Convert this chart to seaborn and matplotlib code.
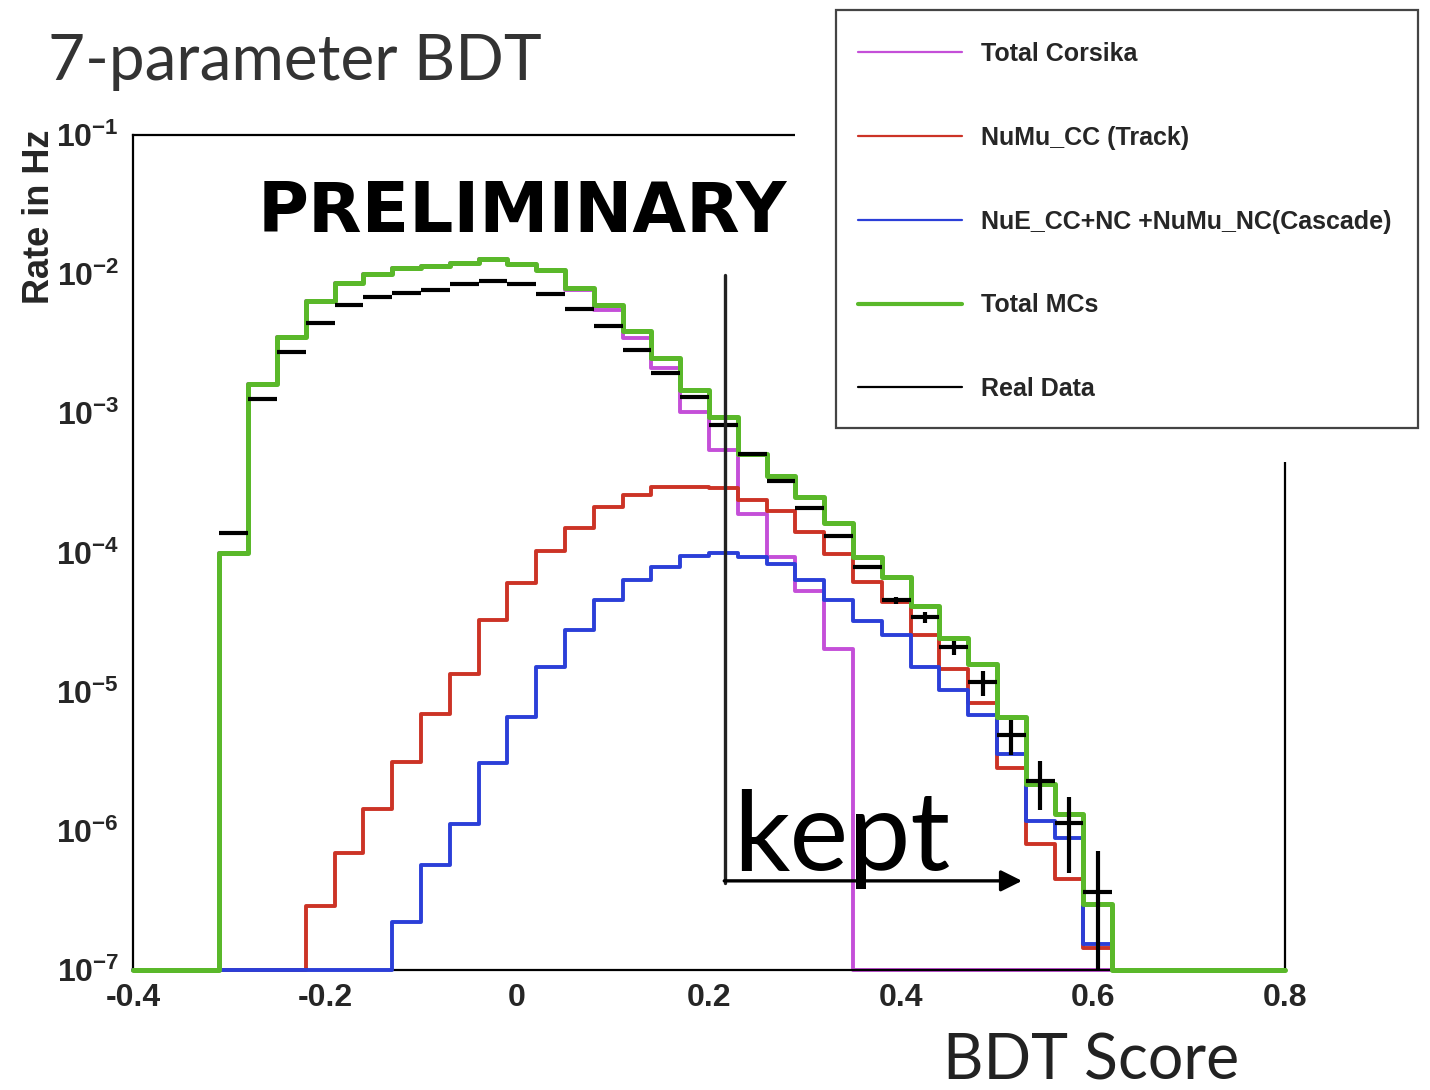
import numpy as np
import pandas as pd
import matplotlib
matplotlib.use("Agg")
import matplotlib.pyplot as plt
import seaborn as sns
from matplotlib.lines import Line2D
from matplotlib.patches import Rectangle
from matplotlib.ticker import MultipleLocator, FixedLocator, FuncFormatter, NullFormatter

# ---------------- data ----------------
# 40 bins of width 0.03 between -0.4 and 0.8
bin_edges = np.round(np.linspace(-0.4, 0.8, 41), 4)

corsika = [0, 0, 0, 1.0e-4, 1.62e-3, 3.54e-3, 6.4e-3, 8.6e-3, 1.0e-2, 1.10e-2,
           1.14e-2, 1.2e-2, 1.28e-2, 1.18e-2, 1.07e-2, 7.67e-3, 5.57e-3, 3.48e-3, 2.13e-3, 1.03e-3,
           5.46e-4, 1.90e-4, 9.35e-5, 5.33e-5, 2.03e-5, 0, 0, 0, 0, 0,
           0, 0, 0, 0, 0, 0, 0, 0, 0, 0]

numu_cc = [0, 0, 0, 0, 0, 0, 2.88e-7, 6.98e-7, 1.43e-6, 3.13e-6,
           6.91e-6, 1.35e-5, 3.28e-5, 6.08e-5, 1.03e-4, 1.51e-4, 2.12e-4, 2.57e-4, 2.97e-4, 2.97e-4,
           2.93e-4, 2.40e-4, 2.00e-4, 1.40e-4, 9.8e-5, 6.11e-5, 4.39e-5, 2.56e-5, 1.46e-5, 8.24e-6,
           2.85e-6, 8.02e-7, 4.49e-7, 1.44e-7, 0, 0, 0, 0, 0, 0]

cascade = [0, 0, 0, 0, 0, 0, 0, 0, 0, 2.22e-7,
           5.69e-7, 1.12e-6, 3.08e-6, 6.61e-6, 1.50e-5, 2.78e-5, 4.52e-5, 6.30e-5, 7.93e-5, 9.51e-5,
           1.0e-4, 9.28e-5, 8.20e-5, 6.30e-5, 4.52e-5, 3.24e-5, 2.56e-5, 1.50e-5, 1.02e-5, 6.84e-6,
           3.58e-6, 1.18e-6, 8.95e-7, 1.54e-7, 0, 0, 0, 0, 0, 0]

total_mc = [0, 0, 0, 1.00e-4, 1.62e-3, 3.54e-3, 6.4e-3, 8.6e-3, 1.0e-2, 1.10e-2,
            1.14e-2, 1.20e-2, 1.28e-2, 1.19e-2, 1.08e-2, 7.96e-3, 6.05e-3, 3.91e-3, 2.50e-3, 1.46e-3,
            9.44e-4, 5.13e-4, 3.52e-4, 2.50e-4, 1.63e-4, 9.25e-5, 6.64e-5, 4.16e-5, 2.42e-5, 1.58e-5,
            6.53e-6, 2.17e-6, 1.32e-6, 3.0e-7, 0, 0, 0, 0, 0, 0]

# real data: bins 3..33
data_first_bin = 3
real_data = [1.39e-4, 1.26e-3, 2.75e-3, 4.47e-3, 5.98e-3, 6.87e-3, 7.33e-3, 7.67e-3, 8.43e-3, 8.86e-3,
             8.43e-3, 7.26e-3, 5.66e-3, 4.22e-3, 2.87e-3, 1.95e-3, 1.32e-3, 8.2e-4, 5.07e-4, 3.24e-4,
             2.09e-4, 1.32e-4, 7.84e-5, 4.52e-5, 3.43e-5, 2.08e-5, 1.17e-5, 4.88e-6, 2.29e-6, 1.13e-6,
             3.66e-7]
real_data_err = [2e-6, 1.2e-5, 2e-5, 2.5e-5, 3e-5, 3e-5, 3e-5, 3e-5, 3e-5, 3e-5,
                 3e-5, 3e-5, 2.5e-5, 2e-5, 1.8e-5, 1.5e-5, 1.2e-5, 1e-5, 8e-6, 6e-6,
                 5e-6, 4e-6, 2.4e-6, 2.3e-6, 2.9e-6, 2.5e-6, 2.4e-6, 1.4e-6, 8.7e-7, 6.3e-7,
                 3.5e-7]

labels = ["Total Corsika", "NuMu_CC (Track)", "NuE_CC+NC +NuMu_NC(Cascade)", "Total MCs", "Real Data"]
x_ticks = [-0.4, -0.2, 0, 0.2, 0.4, 0.6, 0.8]
x_tick_labels = ["-0.4", "-0.2", "0", "0.2", "0.4", "0.6", "0.8"]
y_decades = [-7, -6, -5, -4, -3, -2, -1]

cut_value = 0.217
cut_line_top, cut_line_bottom = 9.8e-3, 4.2e-7
arrow_end = 0.529
arrow_level = 4.37e-7

ymin, ymax = 1e-7, 1e-1

# ---------------- style ----------------
sns.set_theme(style="white")
plt.rcParams.update({
    "font.family": ["Liberation Sans", "DejaVu Sans"],
    "mathtext.fontset": "custom",
    "mathtext.rm": "Liberation Sans:bold",
    "mathtext.it": "Liberation Sans:bold",
    "mathtext.bf": "Liberation Sans:bold",
    "axes.unicode_minus": False,
})

C_CORSIKA = "#c44fd8"
C_NUMU = "#cc3326"
C_CASC = "#2b3fd8"
C_TOTAL = "#5ab82a"

W, H = 1430, 1090
fig = plt.figure(figsize=(W / 100, H / 100), dpi=100)
fig.patch.set_facecolor("white")
ax = fig.add_axes([133 / W, 1 - 970 / H, (1285 - 133) / W, (970 - 135) / H])
ax.set_facecolor("white")


def draw_steps(vals, color, lw, z):
    v = np.clip(np.asarray(vals, float), ymin, None)
    df = pd.DataFrame({"x": bin_edges, "y": np.append(v, v[-1])})
    sns.lineplot(data=df, x="x", y="y", drawstyle="steps-post", color=color,
                 lw=lw, ax=ax, zorder=z, estimator=None, sort=False, clip_on=False)


draw_steps(corsika, C_CORSIKA, 2.8, 2)
draw_steps(numu_cc, C_NUMU, 2.8, 3)
draw_steps(cascade, C_CASC, 2.8, 4)
draw_steps(total_mc, C_TOTAL, 3.6, 5)

centers = (bin_edges[:-1] + bin_edges[1:]) / 2
dx = centers[data_first_bin:data_first_bin + len(real_data)]
half_w = (bin_edges[1] - bin_edges[0]) / 2
ax.errorbar(dx, real_data, xerr=half_w, yerr=real_data_err, fmt="none",
            ecolor="black", elinewidth=3.0, capsize=0, zorder=6)

ax.set_yscale("log")
ax.set_xlim(bin_edges[0], bin_edges[-1])
ax.set_ylim(ymin, ymax)
ax.set_xlabel("")
ax.set_ylabel("")

ax.set_xticks(x_ticks)
ax.set_xticklabels(x_tick_labels)
ax.xaxis.set_minor_locator(MultipleLocator(0.05))
ax.yaxis.set_major_locator(FixedLocator([10.0 ** d for d in y_decades]))
ax.yaxis.set_minor_locator(FixedLocator([m * 10.0 ** d for d in y_decades[:-1] for m in range(2, 10)]))
ax.yaxis.set_major_formatter(FuncFormatter(lambda v, p: r"$10^{%d}$" % round(np.log10(v))))
ax.yaxis.set_minor_formatter(NullFormatter())

ax.tick_params(which="both", direction="in", top=False, right=False, color="black")
ax.tick_params(axis="x", which="major", length=16, width=1.6, pad=9, labelsize=23)
ax.tick_params(axis="x", which="minor", length=7, width=1.6)
ax.tick_params(axis="y", which="major", length=25, width=1.6, pad=10, labelsize=23)
ax.tick_params(axis="y", which="minor", length=12, width=1.6)
for lab in ax.get_xticklabels():
    lab.set_fontweight("bold")
for sp in ax.spines.values():
    sp.set_visible(True)
    sp.set_color("black")
    sp.set_linewidth(1.6)

# cut line and arrow
ax.plot([cut_value, cut_value], [cut_line_top, cut_line_bottom], color="#222222", lw=2.4, zorder=7)
ax.annotate("", xy=(arrow_end, arrow_level), xytext=(cut_value - 0.004, arrow_level),
            arrowprops=dict(arrowstyle="-|>", lw=2.4, color="black", mutation_scale=32), zorder=7)

# white area behind legend (covers part of the frame)
fig.add_artist(Rectangle((795 / W, 1 - 462 / H), 1 - 795 / W, 462 / H, transform=fig.transFigure,
                         facecolor="white", edgecolor="none", zorder=3))
# legend frame
fig.add_artist(Rectangle((836 / W, 1 - 428 / H), (1418 - 836) / W, (428 - 10) / H, transform=fig.transFigure,
                         facecolor="white", edgecolor="#444444", lw=1.6, zorder=4))

# legend
handles = [Line2D([], [], color=C_CORSIKA, lw=1.6),
           Line2D([], [], color=C_NUMU, lw=1.6),
           Line2D([], [], color=C_CASC, lw=1.6),
           Line2D([], [], color=C_TOTAL, lw=3.0),
           Line2D([], [], color="black", lw=1.6)]
leg = fig.legend(handles, labels, loc="upper left", bbox_to_anchor=(858 / W, 1 - 42 / H),
                 bbox_transform=fig.transFigure, prop={"family": "Liberation Sans", "weight": "bold", "size": 18},
                 frameon=False, borderpad=0, labelspacing=2.39, handlelength=4.16,
                 handletextpad=0.76, borderaxespad=0)
leg.set_zorder(5)

# texts
fig.text(48 / W, 1 - 80 / H, "7-parameter BDT", fontsize=46, family=["Lato", "DejaVu Sans"],
         weight="normal", color="#333333", va="baseline", ha="left")
fig.text(258 / W, 1 - 232 / H, "PRELIMINARY", fontsize=50, family=["DejaVu Sans"],
         weight="bold", color="black", va="baseline", ha="left", zorder=8)
fig.text(733 / W, 1 - 870 / H, "kept", fontsize=80, family=["Lato", "DejaVu Sans"],
         weight="normal", color="black", va="baseline", ha="left")
fig.text(943 / W, 1 - 1080 / H, "BDT Score", fontsize=45, family=["Lato", "DejaVu Sans"],
         weight="normal", color="#222222", va="baseline", ha="left")
fig.text(40 / W, 1 - 130 / H, "Rate in Hz", fontsize=26, rotation=90, weight="bold",
         family=["Liberation Sans", "DejaVu Sans"], ha="center", va="top")

fig.savefig("out.png", dpi=100, facecolor="white")
